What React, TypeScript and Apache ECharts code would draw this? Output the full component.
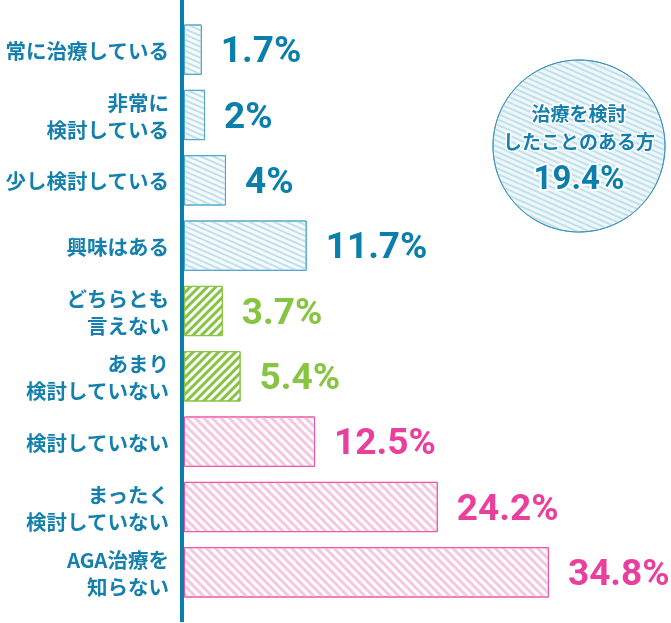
import React, { useEffect, useRef } from 'react';
import * as echarts from 'echarts';

const categories = [
  '常に治療している',
  '非常に\n検討している',
  '少し検討している',
  '興味はある',
  'どちらとも\n言えない',
  'あまり\n検討していない',
  '検討していない',
  'まったく\n検討していない',
  'AGA治療を\n知らない',
];
const values = [1.7, 2, 4, 11.7, 3.7, 5.4, 12.5, 24.2, 34.8];
const groups = ['consider', 'consider', 'consider', 'consider', 'neutral', 'neutral', 'not', 'not', 'not'];
const summaryTitle = ['治療を検討', 'したことのある方'];
const summaryValue = 19.4;

const STYLES: Record<string, any> = {
  consider: { text: '#0b7fac', border: '#4ea5cb', fill: '#f6fbfd', stripe: '#c2e0eb', rotation: 0.42, dashY: [2, 3] },
  neutral: { text: '#87c441', border: '#87c441', fill: '#ffffff', stripe: '#87c441', rotation: -Math.PI / 4, dashY: [3, 3] },
  not: { text: '#e9409d', border: '#e9549f', fill: '#ffffff', stripe: '#f5c8df', rotation: Math.PI / 4, dashY: [3, 3] },
};

const NUM_FONT = "Roboto, 'DejaVu Sans Condensed', sans-serif";
const JP_FONT = "'Noto Sans CJK JP', 'Noto Sans', sans-serif";

export default function App() {
  const ref = useRef<HTMLDivElement>(null);
  useEffect(() => {
    if (!ref.current) return;
    const chart = echarts.init(ref.current, undefined, { renderer: 'svg' });
    const blue = STYLES.consider;
    chart.setOption({
      animation: false,
      grid: { left: 184, top: 17, height: 588, width: 367 },
      xAxis: { type: 'value', min: 0, max: 35, show: false },
      yAxis: {
        type: 'category',
        data: categories,
        inverse: true,
        axisLine: { show: false },
        axisTick: { show: false },
        axisLabel: {
          color: '#1580ac',
          fontSize: 20.5,
          fontWeight: 'bold',
          fontFamily: JP_FONT,
          lineHeight: 27,
          margin: 15,
          align: 'right',
        },
      },
      series: [
        {
          type: 'bar',
          barCategoryGap: '23%',
          silent: true,
          data: values.map((v, i) => {
            const s = STYLES[groups[i]];
            return {
              value: v,
              itemStyle: {
                color: s.fill,
                borderColor: s.border,
                borderWidth: 1,
                decal: {
                  symbol: 'rect',
                  symbolSize: 1,
                  color: s.stripe,
                  dashArrayX: [1, 0],
                  dashArrayY: s.dashY,
                  rotation: s.rotation,
                },
              },
              label: { color: s.text },
            };
          }),
          label: {
            show: true,
            position: 'right',
            distance: 19,
            formatter: (p: any) => `${p.value}%`,
            fontFamily: NUM_FONT,
            fontWeight: 'bold',
            fontSize: 37,
          },
        },
        {
          type: 'pie',
          silent: true,
          center: [579, 146],
          radius: [0, 86],
          data: [{ value: summaryValue }],
          itemStyle: {
            color: '#eef7fa',
            borderColor: '#3d94bc',
            borderWidth: 1,
            decal: {
              symbol: 'rect',
              symbolSize: 1,
              color: blue.stripe,
              dashArrayX: [1, 0],
              dashArrayY: [2, 3],
              rotation: blue.rotation,
            },
          },
          labelLine: { show: false },
          emphasis: { disabled: true },
          label: {
            show: true,
            position: 'center',
            padding: [6, 0, 0, 0],
            formatter: () =>
              summaryTitle.map((t) => `{a|${t}}`).join('\n') + `\n{b|${summaryValue}%}`,
            rich: {
              a: {
                fontFamily: JP_FONT,
                fontSize: 19,
                fontWeight: 'bold',
                color: '#1580ac',
                lineHeight: 28,
                textBorderColor: '#ffffff',
                textBorderWidth: 3,
              },
              b: {
                fontFamily: NUM_FONT,
                fontSize: 33,
                fontWeight: 'bold',
                color: '#0b7fac',
                lineHeight: 46,
                textBorderColor: '#ffffff',
                textBorderWidth: 4,
              },
            },
          },
        },
      ],
      graphic: [
        {
          type: 'rect',
          z: 100,
          shape: { x: 180, y: 0, width: 4, height: 622 },
          style: { fill: '#0b7fac' },
        },
      ],
    });
    return () => chart.dispose();
  }, []);
  return <div ref={ref} style={{ position: 'fixed', left: 0, top: 0, width: 671, height: 623 }} />;
}
